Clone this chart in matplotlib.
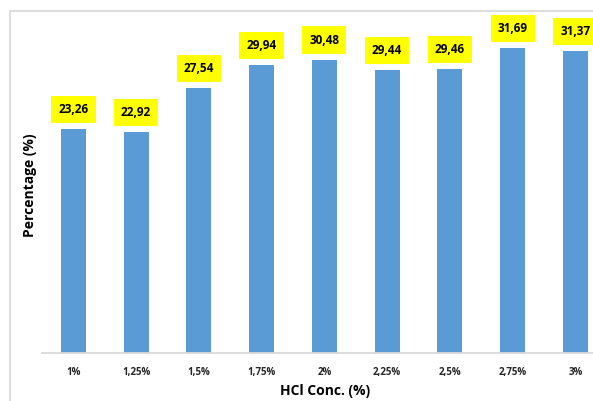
import matplotlib.pyplot as plt
from matplotlib.patches import Rectangle

categories = ["1%", "1,25%", "1,5%", "1,75%", "2%", "2,25%", "2,5%", "2,75%", "3%"]
values = [23.26, 22.92, 27.54, 29.94, 30.48, 29.44, 29.46, 31.69, 31.37]
value_labels = ["23,26", "22,92", "27,54", "29,94", "30,48", "29,44", "29,46", "31,69", "31,37"]

W, H = 593, 401
fig = plt.figure(figsize=(W / 100, H / 100), dpi=100)
plt.rcParams["font.family"] = ["Open Sans", "DejaVu Sans"]

# chart-area frame (cut off on right/bottom like the reference)
fig.patches.append(Rectangle((10 / W, -0.1), 1.2, (H - 11) / H + 0.1,
                             transform=fig.transFigure, fill=False,
                             edgecolor="#d9d9d9", linewidth=1.3))

ax = fig.add_axes([42 / W, 48 / H, 564.75 / W, 337 / H])
x = range(len(categories))
ax.bar(x, values, width=0.4, color="#5b9bd5")
ax.set_xlim(-0.5, len(categories) - 0.5)
ax.set_ylim(0, 35)

for xi, v, lab in zip(x, values, value_labels):
    ax.annotate(lab, (xi, v), xytext=(0, 14), textcoords="offset points",
                ha="center", va="center", fontsize=8.5, fontweight="bold",
                bbox=dict(boxstyle="square,pad=0.6", facecolor="#ffff00",
                          edgecolor="none"))

ax.set_xticks(list(x))
ax.set_xticklabels(categories, fontsize=7, fontweight="bold", color="#262626")
ax.tick_params(axis="x", length=0, pad=10)
ax.set_yticks([])
for side in ["top", "right", "left"]:
    ax.spines[side].set_visible(False)
ax.spines["bottom"].set_color("#d9d9d9")
ax.spines["bottom"].set_linewidth(1.3)

fig.text(325 / W, 1 - 391 / H, "HCl Conc. (%)", ha="center", va="center",
         fontsize=10, fontweight="bold")
fig.text(30 / W, 1 - 185 / H, "Percentage (%)", ha="center", va="center",
         rotation=90, fontsize=10, fontweight="bold")

fig.savefig("out.png", dpi=100)
